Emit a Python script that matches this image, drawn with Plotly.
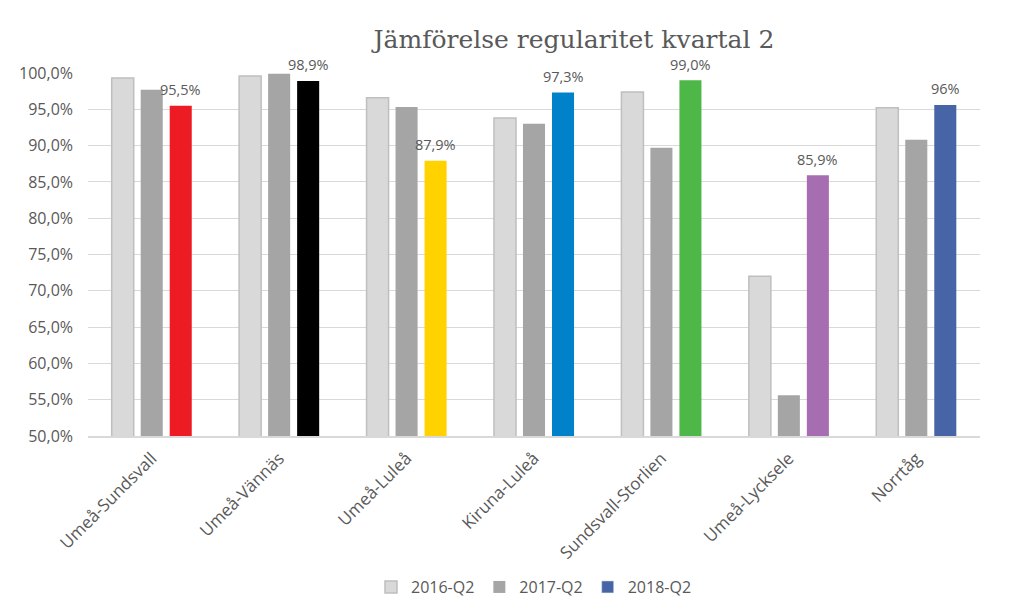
import plotly.graph_objects as go

categories = ["Umeå-Sundsvall", "Umeå-Vännäs", "Umeå-Luleå", "Kiruna-Luleå",
              "Sundsvall-Storlien", "Umeå-Lycksele", "Norrtåg"]
q2_2016 = [0.993, 0.996, 0.966, 0.938, 0.974, 0.720, 0.952]
q2_2017 = [0.977, 0.999, 0.953, 0.930, 0.897, 0.556, 0.908]
q2_2018 = [0.955, 0.989, 0.879, 0.973, 0.990, 0.859, 0.956]
labels_2018 = ["95,5%", "98,9%", "87,9%", "97,3%", "99,0%", "85,9%", "96%"]
colors_2018 = ["#ED1C24", "#000000", "#FFD200", "#0082CA", "#4DB848", "#A66DB0", "#4664A6"]
series_names = ["2016-Q2", "2017-Q2", "2018-Q2"]

font_fam = "Open Sans, Noto Sans, sans-serif"
txt = "#595959"

fig = go.Figure()
fig.add_trace(go.Bar(x=categories, y=q2_2016, name=series_names[0], offsetgroup="a",
                     marker=dict(color="#D9D9D9", line=dict(color="#BFBFBF", width=1.5)),
                     hoverinfo="skip"))
fig.add_trace(go.Bar(x=categories, y=q2_2017, name=series_names[1], offsetgroup="b",
                     marker=dict(color="#A5A5A5", line=dict(width=0)),
                     hoverinfo="skip"))
fig.add_trace(go.Bar(x=categories, y=q2_2018, name=series_names[2], offsetgroup="c",
                     marker=dict(color=colors_2018, line=dict(width=0)),
                     showlegend=False, hoverinfo="skip"))
# legend entry for 2018 series
fig.add_trace(go.Bar(x=[None], y=[None], name=series_names[2], offsetgroup="c",
                     marker=dict(color=colors_2018[-1]), hoverinfo="skip"))

# data labels for 2018 series
for cat, val, lab in zip(categories, q2_2018, labels_2018):
    fig.add_annotation(x=cat, y=val, text=lab, showarrow=False, xshift=29, yshift=16,
                       yanchor="middle", xanchor="center",
                       font=dict(color=txt, size=14.5, family=font_fam))

fig.update_layout(
    width=1024, height=616,
    margin=dict(l=88, r=44, t=73, b=180, autoexpand=False),
    paper_bgcolor="white", plot_bgcolor="white",
    barmode="group", bargap=0.317, bargroupgap=0.24,
    separators=", ",
    font=dict(family=font_fam, color=txt, size=14),
    title=dict(text="Jämförelse regularitet kvartal 2", x=0.5605, xanchor="center",
               y=0.936, yanchor="middle",
               font=dict(family="DejaVu Serif, serif", size=25, color=txt)),
    legend=dict(orientation="h", x=0.5, xanchor="center", yref="container",
                y=0.047, yanchor="middle",
                font=dict(size=16, color=txt), traceorder="normal"),
    showlegend=True,
)
fig.update_yaxes(range=[0.5, 1.0], dtick=0.05, tickformat=".1%", gridcolor="#D9D9D9",
                 gridwidth=1, zeroline=False, showline=False, ticks="",
                 tickfont=dict(size=16, color=txt), ticklabelstandoff=14)
fig.update_xaxes(tickangle=-45, showline=True, linecolor="#D9D9D9", linewidth=1.5,
                 ticks="", tickfont=dict(size=17, color=txt), ticklabelstandoff=4)

fig.write_html("out.html")
